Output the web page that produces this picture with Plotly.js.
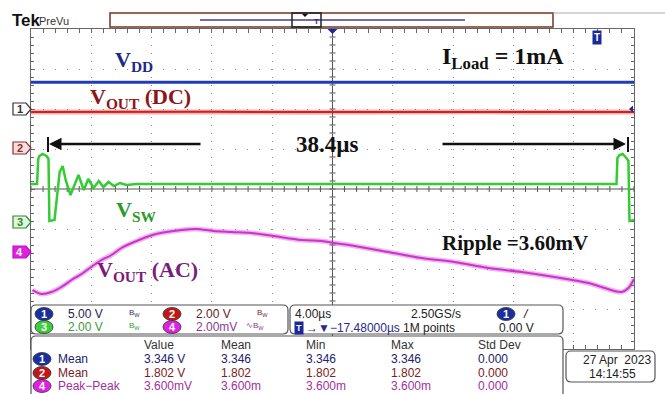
<!DOCTYPE html>
<html><head><meta charset="utf-8">
<script src="https://cdn.plot.ly/plotly-3.0.1.min.js"></script>
<style>html,body{margin:0;padding:0;background:#fff;}#chart{width:665px;height:394px;}</style>
</head><body><div id="chart"></div>
<script>
// ---------- DATA ----------
// Time axis in µs (4 µs/div, 10 div)
const timeRange = [-20, 20];

// CH1 : VDD (V)
const ch1Time  = [-20, -10, 0, 10, 20];
const ch1Volts = [3.346, 3.346, 3.346, 3.346, 3.346];

// CH2 : VOUT (DC) (V)
const ch2Time  = [-20, -17, -14, -11, -8, -5, -2, 1, 4, 7, 10, 13, 16, 20];
const ch2Volts = [1.80, 1.81, 1.79, 1.80, 1.81, 1.80, 1.79, 1.81, 1.80, 1.80, 1.81, 1.79, 1.80, 1.80];

// CH3 : VSW (V)
const ch3Time  = [-20, -19.6, -19.52, -19.44, -19.24, -18.97, -18.84, -18.78, -18.44, -18.3, -18.1, -17.9, -17.7, -17.38, -17.1, -16.85, -16.5, -16.2, -15.85, -15.5, -15.2, -14.86, -14.5, -14.1, -13.66, -13.0, 18.84, 18.9, 19.04, 19.24, 19.5, 19.63, 19.7, 20];
const ch3Volts = [1.9, 1.9, 3.15, 3.3, 3.4, 3.3, 3.15, 0.05, 0.1, 1.1, 2.5, 2.8, 2.1, 1.35, 1.9, 2.35, 1.6, 2.15, 1.7, 2.05, 1.75, 2.0, 1.8, 1.95, 1.85, 1.9, 1.9, 3.2, 3.35, 3.4, 3.2, 3.05, 0.05, 0.1];

// CH4 : VOUT (AC) (mV)
const ch4Time = [-19.9, -19.3, -18.64, -17.98, -17.31, -16.65, -15.92, -15.32, -14.66, -14.0, -13.0, -11.94, -11.01, -10.02, -9.02, -7.89, -6.7, -5.37, -3.91, -2.06, -0.73, 0.13, 1.46, 3.71, 5.9, 8.09, 10.35, 12.54, 14.73, 16.98, 17.85, 19.17, 19.63, 20.0];
const ch4MilliVolts = [-1.9, -2.1, -2.0, -1.75, -1.4, -1.1, -0.7, -0.4, -0.15, 0.2, 0.55, 0.85, 1.0, 1.1, 1.15, 1.05, 1.0, 0.95, 0.8, 0.6, 0.55, 0.45, 0.3, 0.0, -0.3, -0.5, -0.8, -1.0, -1.25, -1.55, -1.75, -2.0, -1.8, -1.35];

// Channel scale readouts
const chLabels = ['1', '2', '3', '4'];
const chScales = ['5.00 V', '2.00 V', '2.00 V', '2.00mV'];
// Timebase readouts
const timeDiv = '4.00µs', sampleRate = '2.50GS/s', triggerPos = '→▼−17.48000µs', recLen = '1M points', trigLevel = '0.00 V';
// Measurement table
const measHeaders = ['Value', 'Mean', 'Min', 'Max', 'Std Dev'];
const measNames = ['Mean', 'Mean', 'Peak−Peak'];
const measChannels = ['1', '2', '4'];
const measRows = [
  ['3.346 V', '3.346', '3.346', '3.346', '0.000'],
  ['1.802 V', '1.802', '1.802', '1.802', '0.000'],
  ['3.600mV', '3.600m', '3.600m', '3.600m', '0.000']
];
const dateText = '27 Apr  2023', timeText = '14:14:55';

// ---------- LAYOUT HELPERS ----------
const L = 31, R = 634, T = 29, B = 349;
const px = x => (x - L) / (R - L);
const py = y => (B - y) / (B - T);

const BLUE = '#1f3cb0', RED = '#d02020', GREEN = '#33cc33', MAG = '#cc33cc';
const badgeFill = ['#1a2fa0', '#c01818', '#3ccc3c', '#e020e0'];
const sans = 'Liberation Sans, Arial, sans-serif';
const serif = 'Liberation Serif, Times New Roman, serif';

const annotations = [];
const shapes = [];

function txt(x, y, text, o = {}) {
  annotations.push({
    xref: 'paper', yref: 'paper', x: px(x), y: py(y), text: text, showarrow: false,
    xanchor: o.anchor || 'left', yanchor: 'middle', borderpad: o.pad === undefined ? 0 : o.pad,
    bgcolor: o.bg || 'rgba(0,0,0,0)',
    font: { family: o.family || sans, size: o.size || 12, color: o.color || '#222' }
  });
}
function rrect(x0, y0, x1, y1, r, o = {}) {
  const p = `M${px(x0 + r)},${py(y0)} L${px(x1 - r)},${py(y0)} Q${px(x1)},${py(y0)} ${px(x1)},${py(y0 + r)} L${px(x1)},${py(y1 - r)} Q${px(x1)},${py(y1)} ${px(x1 - r)},${py(y1)} L${px(x0 + r)},${py(y1)} Q${px(x0)},${py(y1)} ${px(x0)},${py(y1 - r)} L${px(x0)},${py(y0 + r)} Q${px(x0)},${py(y0)} ${px(x0 + r)},${py(y0)} Z`;
  shapes.push({ type: 'path', xref: 'paper', yref: 'paper', path: p, layer: 'above',
    fillcolor: o.fill || '#fff', line: { color: o.color || '#555', width: o.width || 1.2 } });
}
function rect(x0, y0, x1, y1, o = {}) {
  shapes.push({ type: 'rect', xref: 'paper', yref: 'paper', x0: px(x0), x1: px(x1), y0: py(y1), y1: py(y0), layer: 'above',
    fillcolor: o.fill || 'rgba(0,0,0,0)', line: { color: o.color || '#333', width: o.width || 1.2 } });
}
function line(x0, y0, x1, y1, color, width) {
  shapes.push({ type: 'line', xref: 'paper', yref: 'paper', x0: px(x0), x1: px(x1), y0: py(y0), y1: py(y1), layer: 'above',
    line: { color: color, width: width } });
}
function poly(points, fill) {
  const p = 'M' + points.map(q => `${px(q[0])},${py(q[1])}`).join(' L') + ' Z';
  shapes.push({ type: 'path', xref: 'paper', yref: 'paper', path: p, layer: 'above', fillcolor: fill, line: { width: 0 } });
}
function badge(cx, cy, n, idx) {
  shapes.push({ type: 'circle', xref: 'paper', yref: 'paper', x0: px(cx - 9), x1: px(cx + 9), y0: py(cy + 6.5), y1: py(cy - 6.5),
    layer: 'above', fillcolor: badgeFill[idx], line: { color: '#333', width: 0.8 } });
  txt(cx, cy, '<b>' + n + '</b>', { anchor: 'center', size: 11, color: '#fff' });
}

// ---------- GRATICULE CENTER CROSS ----------
shapes.push({ type: 'line', xref: 'paper', yref: 'paper', x0: 0.5, x1: 0.5, y0: 0, y1: 1, layer: 'between', line: { color: '#555', width: 1 } });
shapes.push({ type: 'line', xref: 'paper', yref: 'paper', x0: 0, x1: 1, y0: 0.5, y1: 0.5, layer: 'between', line: { color: '#555', width: 1 } });
for (let i = 0; i <= 50; i++) {
  shapes.push({ type: 'line', xref: 'paper', yref: 'paper', x0: i / 50, x1: i / 50, ysizemode: 'pixel', yanchor: 0.5, y0: -3, y1: 3,
    layer: 'between', line: { color: '#555', width: 1 } });
}
for (let j = 0; j <= 40; j++) {
  shapes.push({ type: 'line', xref: 'paper', yref: 'paper', y0: j / 40, y1: j / 40, xsizemode: 'pixel', xanchor: 0.5, x0: -3, x1: 3,
    layer: 'between', line: { color: '#555', width: 1 } });
}

// ---------- CHANNEL MARKERS (left) ----------
const markerStyle = [
  { fill: '#ffffff', line: '#333', text: '#333' },
  { fill: '#f6dede', line: '#8a3030', text: '#8a3030' },
  { fill: '#def6de', line: '#2a8a2a', text: '#2a8a2a' },
  { fill: '#e020e0', line: '#c010c0', text: '#ffffff' }
];
['y', 'y2', 'y3', 'y4'].forEach((ax, k) => {
  shapes.push({ type: 'path', xref: 'paper', yref: ax, xsizemode: 'pixel', xanchor: 0, ysizemode: 'pixel', yanchor: 0,
    path: 'M-18,-6 L-5,-6 L0,0 L-5,6 L-18,6 Z', layer: 'above',
    fillcolor: markerStyle[k].fill, line: { color: markerStyle[k].line, width: 1.2 } });
  annotations.push({ xref: 'paper', yref: ax, x: 0, y: 0, xshift: -11.5, text: '<b>' + chLabels[k] + '</b>', showarrow: false,
    xanchor: 'center', yanchor: 'middle', font: { family: sans, size: 11, color: markerStyle[k].text } });
});
// Trigger level marker (right, at CH1 0 V)
shapes.push({ type: 'path', xref: 'paper', yref: 'y', xsizemode: 'pixel', xanchor: 1, ysizemode: 'pixel', yanchor: 0,
  path: 'M-5,0 L-1,-3.5 L-1,3.5 Z', layer: 'above', fillcolor: '#1a2a9a', line: { width: 0 } });
// Trigger position marker (top, t = 0)
shapes.push({ type: 'path', xref: 'x', yref: 'paper', xsizemode: 'pixel', xanchor: 0, ysizemode: 'pixel', yanchor: 1,
  path: 'M-5,0 L5,0 L0,-5 Z', layer: 'above', fillcolor: '#1a2a9a', line: { width: 0 } });

// ---------- HEADER ----------
txt(11, 20, '<b>Tek</b>', { size: 17, color: '#111', family: 'Liberation Sans Narrow, ' + sans });
txt(38, 21, 'PreVu', { size: 11, color: '#333' });
rect(110, 13, 553, 27, { color: '#7a3322', width: 1.5, fill: '#fff' });
line(200, 20, 465, 20, '#4a3a8a', 1.5);
rect(292, 13, 321, 27, { color: '#222', width: 1.5 });
poly([[302, 14], [308, 14], [305, 17]], '#111');
txt(316, 22, '<b>T</b>', { anchor: 'center', size: 8, color: '#2a2aa0' });
line(553, 13, 665, 13, '#aaa', 1);
txt(597, 38, '<b>T</b>', { anchor: 'center', size: 10, color: '#fff', bg: '#1a2a9a', pad: 1 });

// ---------- IN-PLOT LABELS ----------
txt(114, 61, '<b>V<sub>DD</sub></b>', { family: serif, size: 22, color: '#1c2a84' });
txt(441, 58, '<b>I<sub>Load</sub> = 1mA</b>', { family: serif, size: 24, color: '#111' });
txt(89, 98, '<b>V<sub>OUT</sub> (DC)</b>', { family: serif, size: 22, color: '#8e1616' });
txt(295, 144, '<b>38.4µs</b>', { family: serif, size: 23, color: '#111' });
txt(115, 211, '<b>V<sub>SW</sub></b>', { family: serif, size: 22, color: '#2a9a2a' });
txt(96, 271, '<b>V<sub>OUT</sub> (AC)</b>', { family: serif, size: 22, color: '#7a1c7a' });
txt(441, 243, '<b>Ripple =3.60mV</b>', { family: serif, size: 21, color: '#111' });

// Period arrows
annotations.push({ xref: 'paper', yref: 'paper', x: px(49), y: py(144), ax: 153, ay: 0, text: '', showarrow: true,
  arrowhead: 2, arrowsize: 1, arrowwidth: 2.5, arrowcolor: '#111' });
annotations.push({ xref: 'paper', yref: 'paper', x: px(626), y: py(144), ax: -185, ay: 0, text: '', showarrow: true,
  arrowhead: 2, arrowsize: 1, arrowwidth: 2.5, arrowcolor: '#111' });
line(48, 137, 48, 152, '#111', 2);
line(628, 137, 628, 152, '#111', 2);

// ---------- READOUT PANELS ----------
rrect(31, 305, 288, 334, 5);
rrect(290, 305, 563, 334, 5);
rrect(31, 336, 563, 402, 5);
rrect(566, 351, 655, 382, 5);

// channel scales
const scaleColors = ['#23234f', '#5a2a2a', '#3a9a3a', '#8a3a9a'];
const iconColors = ['#333366', '#7a2a2a', '#3a9a3a', '#8a3a8a'];
const chPos = [[44, 314], [172, 314], [44, 327], [172, 327]];
chLabels.forEach((c, k) => {
  const [cx, cy] = chPos[k];
  badge(cx, cy, c, k);
  txt(cx + 23, cy, chScales[k], { color: scaleColors[k] });
  txt(cx + (k === 3 ? 73 : 84), cy - 1, (k === 3 ? '∿' : '') + 'B<sub>W</sub>', { size: 8, color: iconColors[k] });
});

// timebase
txt(294, 314, timeDiv);
txt(410, 314, sampleRate);
badge(506, 314, '1', 0);
txt(522, 314, '<i>/</i>', { size: 12, color: '#111' });
txt(299, 328, '<b>T</b>', { anchor: 'center', size: 9, color: '#fff', bg: '#1a2a9a', pad: 1 });
txt(305, 328, triggerPos, { color: '#2a2a8a' });
txt(402, 328, recLen);
txt(498, 328, trigLevel);

// measurements
const colX = [143, 220, 305, 390, 477];
const rowY = [359, 373, 386];
const rowColors = ['#22226a', '#7a2222', '#a030a0'];
const rowBadge = [0, 1, 3];
measHeaders.forEach((h, i) => txt(colX[i], 345, h, { color: '#333' }));
measRows.forEach((row, r) => {
  badge(42, rowY[r], measChannels[r], rowBadge[r]);
  txt(57, rowY[r], measNames[r], { color: rowColors[r] });
  row.forEach((v, i) => txt(colX[i], rowY[r], v, { color: rowColors[r] }));
});

// date
txt(652, 360, dateText, { anchor: 'right', color: '#222' });
txt(588, 374, timeText, { color: '#222' });

// ---------- TRACES ----------
const traces = [
  { x: ch1Time, y: ch1Volts, yaxis: 'y', mode: 'lines', line: { color: BLUE, width: 3 }, hoverinfo: 'skip' },
  { x: ch2Time, y: ch2Volts, yaxis: 'y2', mode: 'lines', line: { color: RED, width: 5 }, opacity: 0.35, hoverinfo: 'skip' },
  { x: ch2Time, y: ch2Volts, yaxis: 'y2', mode: 'lines', line: { color: RED, width: 2 }, hoverinfo: 'skip' },
  { x: ch3Time, y: ch3Volts, yaxis: 'y3', mode: 'lines', line: { color: GREEN, width: 2.5 }, hoverinfo: 'skip' },
  { x: ch4Time, y: ch4MilliVolts, yaxis: 'y4', mode: 'lines', line: { color: MAG, width: 5, shape: 'spline' }, opacity: 0.35, hoverinfo: 'skip' },
  { x: ch4Time, y: ch4MilliVolts, yaxis: 'y4', mode: 'lines', line: { color: MAG, width: 2, shape: 'spline' }, hoverinfo: 'skip' }
];

const hiddenY = (range) => ({ overlaying: 'y', range: range, visible: false, fixedrange: true });

const layout = {
  width: 665, height: 394,
  margin: { l: L, r: 665 - R, t: T, b: 394 - B, pad: 0 },
  paper_bgcolor: '#fff', plot_bgcolor: '#fff',
  showlegend: false,
  xaxis: {
    range: timeRange, dtick: 4, tick0: 0, showticklabels: false, zeroline: false,
    showgrid: true, gridcolor: '#8a8a8a', gridwidth: 1, griddash: '1px,7px',
    showline: true, linecolor: '#666', linewidth: 1, mirror: 'allticks',
    ticks: 'inside', ticklen: 4, tickcolor: '#666',
    minor: { dtick: 0.8, ticks: 'inside', ticklen: 3, tickcolor: '#666', showgrid: false }
  },
  yaxis: {
    range: [-30, 10], dtick: 5, tick0: 0, showticklabels: false, zeroline: false,
    showgrid: true, gridcolor: '#8a8a8a', gridwidth: 1, griddash: '1px,11px',
    showline: true, linecolor: '#666', linewidth: 1, mirror: 'allticks',
    ticks: 'inside', ticklen: 4, tickcolor: '#666',
    minor: { dtick: 1, ticks: 'inside', ticklen: 3, tickcolor: '#666', showgrid: false }
  },
  yaxis2: hiddenY([-10.05, 5.95]),
  yaxis3: hiddenY([-6.35, 9.65]),
  yaxis4: hiddenY([-4.85, 11.15]),
  shapes: shapes,
  annotations: annotations
};

Plotly.newPlot('chart', traces, layout, { staticPlot: true, displayModeBar: false });
</script>
</body></html>
